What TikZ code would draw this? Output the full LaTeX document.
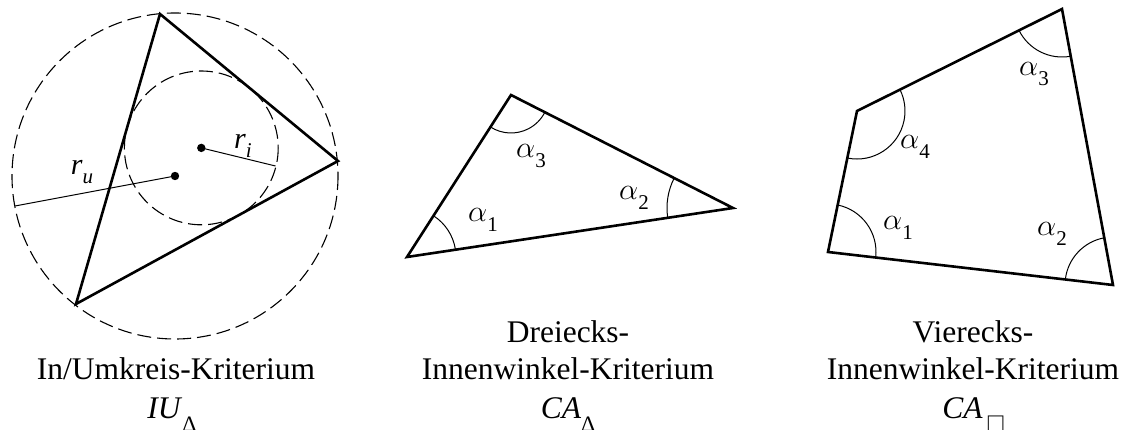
\documentclass[tikz,border=0pt]{standalone}
\usepackage{graphicx}
\usepackage{fontspec}
\setmainfont{Liberation Serif}
\usetikzlibrary{angles}
\newcommand\lsub[1]{\raisebox{-0.38em}{\fontsize{21}{21}\selectfont #1}}
\newcommand\bsub[1]{\raisebox{-0.42em}{\fontsize{22}{22}\selectfont #1}}
\newcommand\alp{\scalebox{1.22}{$\alpha$}}
\begin{document}
\begin{tikzpicture}[x=1pt,y=-1pt,
  edge/.style={line width=2.6pt, line join=miter},
  aux/.style={line width=1pt},
  circ/.style={line width=1.1pt, dash pattern=on 14pt off 6pt},
  arcmark/.style={draw, line width=1pt},
  lbl/.style={inner sep=0pt, font=\fontsize{24.88}{30}\selectfont},
  captxt/.style={inner sep=0pt, anchor=base, font=\fontsize{31.5}{36}\selectfont}]
\useasboundingbox (0,0) rectangle (1125,430);

% ---------- left: in/circumcircle ----------
\coordinate (A) at (160,14);
\coordinate (B) at (338,161);
\coordinate (C) at (76,304);
\coordinate (Mu) at (175,176);
\coordinate (Mi) at (201.3,147.9);
\coordinate (Ru) at (15,206);
\coordinate (Ri) at (275.5,166);
\draw[circ] (Mu) circle (163);
\draw[circ] (Mi) circle (76.9);
\draw[edge] (A) -- (B) -- (C) -- cycle;
\draw[aux] (Mu) -- (Ru);
\draw[aux] (Mi) -- (Ri);
\fill (Mu) circle (4.2);
\fill (Mi) circle (4.2);
\node[lbl] (lru) at (82,172) {{\fontsize{30}{30}\selectfont\itshape r}\lsub{\itshape u}};
\node[lbl] (lri) at (243,146) {{\fontsize{30}{30}\selectfont\itshape r}\lsub{\itshape i}};

% ---------- middle: triangle ----------
\coordinate (L) at (407,257);
\coordinate (T) at (511,95);
\coordinate (R) at (733,208);
\draw[edge] (L) -- (T) -- (R) -- cycle;
\pic[arcmark, angle radius=49pt] {angle = R--L--T};
\pic[arcmark, angle radius=38pt] {angle = L--T--R};
\pic[arcmark, angle radius=66pt] {angle = T--R--L};
\node[lbl] (ta1) at (483,220) {\alp\lsub{1}};
\node[lbl] (ta2) at (634,198) {\alp\lsub{2}};
\node[lbl] (ta3) at (531,156) {\alp\lsub{3}};

% ---------- right: quadrilateral ----------
\coordinate (Q1) at (828,252);
\coordinate (Q2) at (1113,285);
\coordinate (Q3) at (1062,9);
\coordinate (Q4) at (857,111);
\draw[edge] (Q1) -- (Q2) -- (Q3) -- (Q4) -- cycle;
\pic[arcmark, angle radius=48pt] {angle = Q2--Q1--Q4};
\pic[arcmark, angle radius=48pt] {angle = Q3--Q2--Q1};
\pic[arcmark, angle radius=48pt] {angle = Q4--Q3--Q2};
\pic[arcmark, angle radius=48pt] {angle = Q1--Q4--Q3};
\node[lbl] (qa1) at (898,228) {\alp\lsub{1}};
\node[lbl] (qa2) at (1052,234) {\alp\lsub{2}};
\node[lbl] (qa3) at (1034,74) {\alp\lsub{3}};
\node[lbl] (qa4) at (915,147) {\alp\lsub{4}};

% ---------- captions ----------
\node[captxt] (c1b) at (176,380) {In/Umkreis-Kriterium};
\node[captxt] (c1c) at (172,418) {\textit{IU}\bsub{Δ}};
\node[captxt] (c2a) at (568,343) {Dreiecks-};
\node[captxt] (c2b) at (568,380) {Innenwinkel-Kriterium};
\node[captxt] (c2c) at (568,418) {\textit{CA}\bsub{Δ}};
\node[captxt] (c3a) at (973,343) {Vierecks-};
\node[captxt] (c3b) at (973,380) {Innenwinkel-Kriterium};
\node[captxt] (c3c) at (973,418) {\textit{CA}\,\bsub{\fontsize{26}{26}\selectfont □}};
\end{tikzpicture}
\end{document}
